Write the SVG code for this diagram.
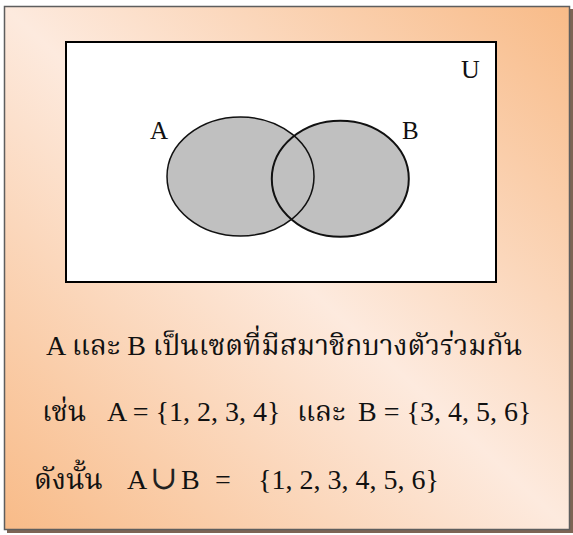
<svg xmlns="http://www.w3.org/2000/svg" width="573" height="535" viewBox="0 0 573 535">
<defs>
<linearGradient id="bg" x1="1" y1="0" x2="0" y2="1">
<stop offset="0" stop-color="#f8bb88"/>
<stop offset="0.5" stop-color="#fdeade"/>
<stop offset="1" stop-color="#f8bb88"/>
</linearGradient>
<style>
text{font-family:"Liberation Serif","Noto Serif Thai","Noto Sans Thai","DejaVu Serif",serif;fill:#111;}
.lbl{font-size:25px;}
.t{font-size:28px;}
.set{fill:#c0c0c0;stroke:none;}
</style>
</defs>
<g id="frame">
<rect x="7" y="9" width="566" height="524" fill="#7d6454"/>
<rect x="4.5" y="6.5" width="565" height="523" fill="url(#bg)" stroke="#5e5e5e" stroke-width="1.5"/>
</g>
<g id="universe">
<rect x="66" y="42" width="430" height="240" fill="#fff" stroke="#000" stroke-width="2"/>
<text class="lbl" x="461" y="78" style="font-size:26px">U</text>
</g>
<g id="sets">
<ellipse class="set" cx="240.5" cy="176.5" rx="73.5" ry="59.5"/>
<ellipse class="set" cx="340.3" cy="178.7" rx="68.5" ry="58"/>
<ellipse cx="240.5" cy="176.5" rx="73.5" ry="59.5" fill="none" stroke="#111" stroke-width="1.5"/>
<ellipse cx="340.3" cy="178.7" rx="68.5" ry="58" fill="none" stroke="#111" stroke-width="2"/>
</g>
<g id="set-a-label"><text class="lbl" x="150" y="139">A</text></g>
<g id="set-b-label"><text class="lbl" x="402" y="139">B</text></g>
<g id="caption">
<text class="t" x="46" y="355">A และ B เป็นเซตที่มีสมาชิกบางตัวร่วมกัน</text>
<text class="t" y="421"><tspan x="42">เช่น</tspan><tspan x="107">A = {1, 2, 3, 4}</tspan><tspan x="297">และ</tspan><tspan x="358">B = {3, 4, 5, 6}</tspan></text>
<text class="t" y="489"><tspan x="34">ดังนั้น</tspan><tspan x="127">A</tspan><tspan x="150" style="font-size:33px;fill:#222">∪</tspan><tspan x="181">B</tspan><tspan x="215">=</tspan><tspan x="258">{1, 2, 3, 4, 5, 6}</tspan></text>
</g>
</svg>
